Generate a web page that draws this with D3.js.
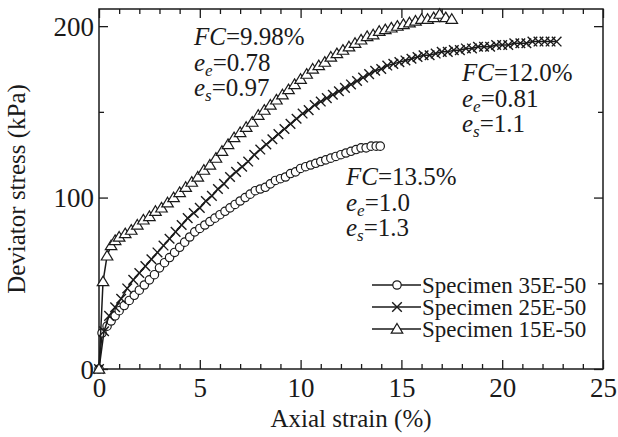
<!DOCTYPE html>
<html><head><meta charset="utf-8">
<script src="https://cdn.jsdelivr.net/npm/d3@7"></script>
<style>
html,body{margin:0;padding:0;background:#fff;}
svg{display:block;font-family:"Liberation Serif","Times New Roman",serif;}
</style></head>
<body><svg id="c" width="618" height="437"></svg>
<script>
// ---- data ----
const s35Strain = [0,0.15,0.4,0.6,0.8,1.0,1.25,1.5,1.75,2.0,2.25,2.5,2.75,3.0,3.25,3.5,3.75,4.0,4.25,4.5,4.75,5.0,5.25,5.5,5.75,6.0,6.25,6.5,6.75,7.0,7.25,7.5,7.75,8.0,8.25,8.5,8.75,9.0,9.25,9.5,9.75,10.0,10.25,10.5,10.75,11.0,11.25,11.5,11.75,12.0,12.25,12.5,12.75,13.0,13.25,13.5,13.75,13.95];
const s35Stress = [0,21,25,28,31,34,37,40,43,46,49,52,55,59,62,65,68,71,74,77,80,82,84,86,88,90,92,94,96,98,100,102,104,105,106,108,110,111,112,114,115,117,118,119,120,121,122,123,124,125,126,127,128,129,129,130,130,130];

const s25Strain = [0,0.25,0.5,0.8,1.1,1.4,1.7,2.0,2.3,2.6,2.9,3.2,3.5,3.8,4.1,4.4,4.7,5.0,5.3,5.6,5.9,6.2,6.5,6.8,7.1,7.4,7.7,8.0,8.3,8.6,8.9,9.2,9.5,9.8,10.1,10.4,10.7,11.0,11.3,11.6,11.9,12.2,12.5,12.8,13.1,13.4,13.7,14.0,14.3,14.6,14.9,15.2,15.5,15.8,16.1,16.4,16.7,17.0,17.3,17.6,17.9,18.2,18.5,18.8,19.1,19.4,19.7,20.0,20.3,20.6,20.9,21.2,21.5,21.8,22.1,22.4,22.7];
const s25Stress = [0,22,31,36,41,47,52,56,60,64,68,72,76,80,84,88,91,94,98,101,105,108,112,115,118,121,125,128,131,134,137,140,143,146,149,151,154,156,158,160,162,164,166,168,170,172,174,175,177,178,179,180,181,182,183,183,184,185,185,186,186,187,187,188,188,188,189,189,189,190,190,190,191,191,191,191,191];

const s15Strain = [0,0.2,0.4,0.6,0.8,1.0,1.3,1.6,1.9,2.2,2.5,2.8,3.1,3.4,3.7,4.0,4.3,4.6,4.9,5.2,5.5,5.8,6.1,6.4,6.7,7.0,7.3,7.6,7.9,8.2,8.5,8.8,9.1,9.4,9.7,10.0,10.3,10.6,10.9,11.2,11.5,11.8,12.1,12.4,12.7,13.0,13.3,13.6,13.9,14.2,14.5,14.8,15.1,15.4,15.7,16.0,16.3,16.6,16.9,17.2,17.5];
const s15Stress = [0,51,66,72,75,77,79,81,84,87,89,92,94,97,100,103,106,109,112,116,119,123,127,131,135,138,141,144,148,151,154,157,160,163,166,169,172,175,177,179,182,184,186,188,190,192,194,195,197,198,199,200,201,202,203,204,204,205,207,205,204];

const xMajor = [0,5,10,15,20,25];
const xMinor = [1,2,3,4,6,7,8,9,11,12,13,14,16,17,18,19,21,22,23,24];
const yMajor = [0,100,200];
const yMinor = [50,150];
const legendLabels = ["Specimen 35E-50","Specimen 25E-50","Specimen 15E-50"];
const markerTypes = ["circle","cross","triangle"];

// ---- layout ----
const L = 99, R = 603, T = 9, B = 369;
const svg = d3.select("#c");
const x = d3.scaleLinear().domain([0,25]).range([L,R]);
const y = d3.scaleLinear().domain([0,210]).range([B,T]);
const ink = "#1a1a1a";
const serif = "Liberation Serif, Times New Roman, serif";

// frame
svg.append("rect").attr("x",L).attr("y",T).attr("width",R-L).attr("height",B-T)
  .attr("fill","none").attr("stroke",ink).attr("stroke-width",1.5);

function styleAxis(g){
  g.select(".domain").remove();
  g.selectAll(".tick line").attr("stroke",ink).attr("stroke-width",1.3);
}
// bottom
svg.append("g").attr("transform",`translate(0,${B})`)
  .call(d3.axisBottom(x).tickValues(xMajor).tickSize(-9).tickFormat(d3.format("d")))
  .call(styleAxis)
  .call(g=>g.selectAll("text").attr("dy",null).attr("y",28).attr("fill",ink)
     .attr("font-family",serif).style("font-size","27px"));
svg.append("g").attr("transform",`translate(0,${B})`)
  .call(d3.axisBottom(x).tickValues(xMinor).tickSize(-5).tickFormat(""))
  .call(styleAxis);
// top
svg.append("g").attr("transform",`translate(0,${T})`)
  .call(d3.axisTop(x).tickValues(xMajor).tickSize(-9).tickFormat(""))
  .call(styleAxis);
svg.append("g").attr("transform",`translate(0,${T})`)
  .call(d3.axisTop(x).tickValues(xMinor).tickSize(-5).tickFormat(""))
  .call(styleAxis);
// left
svg.append("g").attr("transform",`translate(${L},0)`)
  .call(d3.axisLeft(y).tickValues(yMajor).tickSize(-9).tickFormat(d3.format("d")))
  .call(styleAxis)
  .call(g=>g.selectAll("text").attr("x",-5).attr("dy","0.34em").attr("fill",ink)
     .attr("font-family",serif).style("font-size","27px"));
svg.append("g").attr("transform",`translate(${L},0)`)
  .call(d3.axisLeft(y).tickValues(yMinor).tickSize(-5).tickFormat(""))
  .call(styleAxis);
// right
svg.append("g").attr("transform",`translate(${R},0)`)
  .call(d3.axisRight(y).tickValues(yMajor).tickSize(-9).tickFormat(""))
  .call(styleAxis);
svg.append("g").attr("transform",`translate(${R},0)`)
  .call(d3.axisRight(y).tickValues(yMinor).tickSize(-5).tickFormat(""))
  .call(styleAxis);

// axis titles
svg.append("text").attr("x",(L+R)/2).attr("y",427).attr("text-anchor","middle")
  .attr("fill",ink).style("font-size","25px").text("Axial strain (%)");
svg.append("text").attr("transform",`translate(25,${(T+B)/2}) rotate(-90)`)
  .attr("text-anchor","middle").attr("fill",ink).style("font-size","25px")
  .text("Deviator stress (kPa)");

// markers
function drawMarker(g, type, cx, cy){
  if(type==="circle"){
    g.append("circle").attr("cx",cx).attr("cy",cy).attr("r",4.2)
      .attr("fill","#fff").attr("stroke",ink).attr("stroke-width",1.2);
  } else if(type==="triangle"){
    const s=5.5;
    g.append("path").attr("d",`M${cx},${cy-s}L${cx+s*1.05},${cy+s*0.75}L${cx-s*1.05},${cy+s*0.75}Z`)
      .attr("fill","#fff").attr("stroke",ink).attr("stroke-width",1.2);
  } else {
    const s=4.8;
    g.append("path").attr("d",`M${cx-s},${cy-s}L${cx+s},${cy+s}M${cx-s},${cy+s}L${cx+s},${cy-s}`)
      .attr("fill","none").attr("stroke",ink).attr("stroke-width",1.4);
  }
}

const series = [
  {xs:s35Strain, ys:s35Stress, type:markerTypes[0]},
  {xs:s25Strain, ys:s25Stress, type:markerTypes[1]},
  {xs:s15Strain, ys:s15Stress, type:markerTypes[2]}
];
const line = d3.line().x(d=>x(d[0])).y(d=>y(d[1]));
series.forEach(s=>{
  const pts = s.xs.map((v,i)=>[v,s.ys[i]]);
  const g = svg.append("g");
  g.append("path").attr("d",line(pts)).attr("fill","none").attr("stroke",ink).attr("stroke-width",1.5);
  pts.forEach(p=>drawMarker(g,s.type,x(p[0]),y(p[1])));
});

// annotations
function annot(x0,y0,fc,ee,es){
  const fs=25, lh=25.5;
  const t1 = svg.append("text").attr("x",x0).attr("y",y0).attr("fill",ink).style("font-size",fs+"px");
  t1.append("tspan").style("font-style","italic").text("FC");
  t1.append("tspan").text("="+fc);
  [["e",ee],["s",es]].forEach((r,i)=>{
    const t = svg.append("text").attr("x",x0).attr("y",y0+lh*(i+1)).attr("fill",ink).style("font-size",fs+"px");
    t.append("tspan").style("font-style","italic").text("e");
    t.append("tspan").style("font-style","italic").style("font-size","17px").attr("dy",5).text(r[0]);
    t.append("tspan").attr("dy",-5).text("="+r[1]);
  });
}
annot(194,45,"9.98%","0.78","0.97");
annot(462,81,"12.0%","0.81","1.1");
annot(346,185,"13.5%","1.0","1.3");

// legend
const lg = svg.append("g");
legendLabels.forEach((lab,i)=>{
  const cy = 285 + i*22;
  lg.append("line").attr("x1",372).attr("x2",421).attr("y1",cy).attr("y2",cy)
    .attr("stroke",ink).attr("stroke-width",1.3);
  drawMarker(lg, markerTypes[i], 397, cy);
  lg.append("text").attr("x",422).attr("y",cy+8).attr("fill",ink).style("font-size","23px").text(lab);
});
</script></body></html>
